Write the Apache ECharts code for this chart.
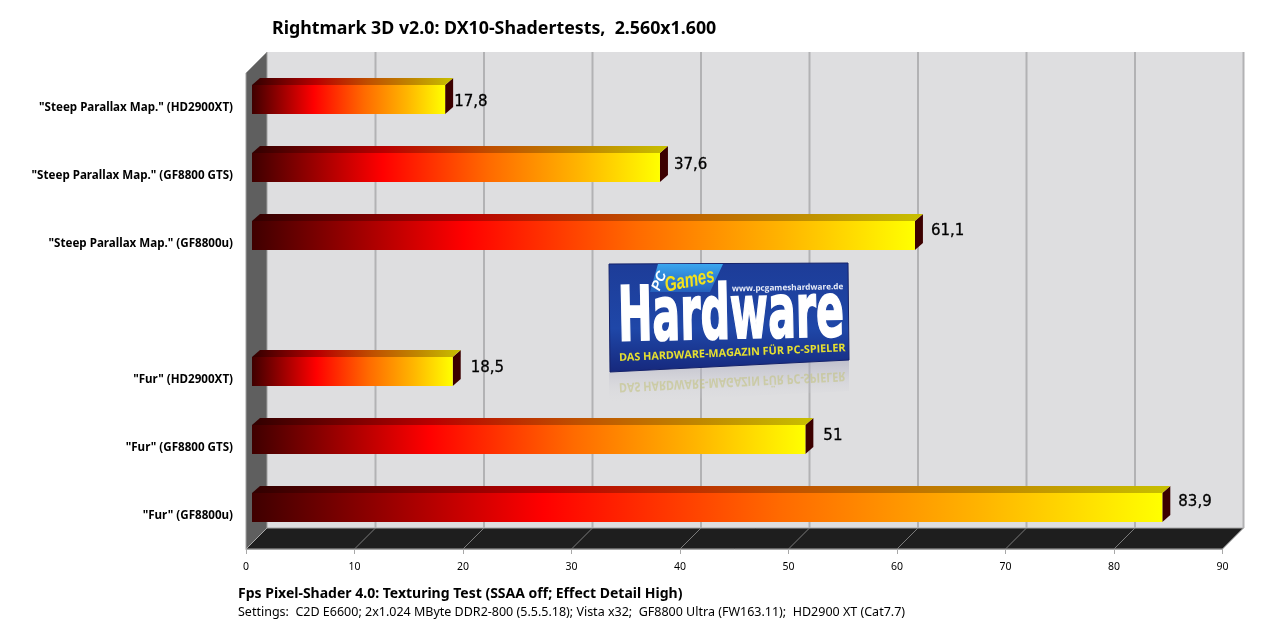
<!DOCTYPE html>
<html>
<head>
<meta charset="utf-8">
<style>html,body{margin:0;padding:0;background:#fff}#chart{width:1280px;height:637px}</style>
<script src="https://cdn.jsdelivr.net/npm/echarts@6/dist/echarts.min.js"></script>
</head>
<body>
<div id="chart"></div>
<script>
// Rightmark 3D shader results, drawn top to bottom
const categories = [
  '"Steep Parallax Map." (HD2900XT)',
  '"Steep Parallax Map." (GF8800 GTS)',
  '"Steep Parallax Map." (GF8800u)',
  '',
  '"Fur" (HD2900XT)',
  '"Fur" (GF8800 GTS)',
  '"Fur" (GF8800u)'
];
const fpsValues = [17.8, 37.6, 61.1, null, 18.5, 51, 83.9];
const valueLabels = ['17,8', '37,6', '61,1', '', '18,5', '51', '83,9'];
// Hand placement of each value label relative to its bar end
const labelGapX = [1, 6, 8, 0, 10, 10, 8];
const labelGapY = [2.5, -2.5, -4.5, 0, -3.5, -3.5, -5.5];
const axisTicks = { min: 0, max: 90, interval: 10 };

const titleText = 'Rightmark 3D v2.0: DX10-Shadertests,  2.560x1.600';
const noteBold = 'Fps Pixel-Shader 4.0: Texturing Test (SSAA off; Effect Detail High)';
const noteSmall = 'Settings:  C2D E6600; 2x1.024 MByte DDR2-800 (5.5.5.18); Vista x32;  GF8800 Ultra (FW163.11);  HD2900 XT (Cat7.7)';

const FONT = '"Noto Sans", sans-serif';
const DEPTH_X = 21, DEPTH_Y = 21;      // floor and wall depth
const BAR_DX = 6, BAR_TOP_X = 8, BAR_TOP_Y = 7, BAR_H = 29;

function grad(stops) {
  return new echarts.graphic.LinearGradient(0, 0, 1, 0,
    stops.map(s => ({ offset: s[0], color: s[1] })));
}
function vgrad(stops) {
  return new echarts.graphic.LinearGradient(0, 0, 0, 1,
    stops.map(s => ({ offset: s[0], color: s[1] })));
}
const frontStops = [[0,'#3f0000'],[0.32,'#ff0000'],[0.58,'#ff6a00'],[0.8,'#ffb400'],[1,'#ffff00']];
const topStops = [[0,'#300000'],[0.32,'#b80000'],[0.58,'#bf5000'],[0.8,'#bf8800'],[1,'#c8c000']];

// Back wall, side wall, floor and gridlines share one shear
function renderRoom(params, api) {
  const r = params.coordSys;
  const floorY = r.y + r.height + 7.5;
  const x0 = api.coord([axisTicks.min, 0])[0];
  const x1 = api.coord([axisTicks.max, 0])[0];
  const wallTop = 52;
  const backY = floorY - DEPTH_Y;
  const children = [
    { type: 'polygon', shape: { points: [[x0 + DEPTH_X, wallTop], [x1 + DEPTH_X, wallTop], [x1 + DEPTH_X, backY], [x0 + DEPTH_X, backY]] },
      style: { fill: '#dedee0' } },
    { type: 'polygon', shape: { points: [[x0, wallTop + DEPTH_Y], [x0 + DEPTH_X, wallTop], [x0 + DEPTH_X, backY], [x0, floorY]] },
      style: { fill: '#5f5f5f', stroke: '#a0a0a0', lineWidth: 1 } },
    { type: 'polygon', shape: { points: [[x0, floorY], [x0 + DEPTH_X, backY], [x1 + DEPTH_X, backY], [x1, floorY]] },
      style: { fill: '#1e1e1e', stroke: '#a8a8a8', lineWidth: 1 } }
  ];
  for (let t = axisTicks.min + axisTicks.interval; t <= axisTicks.max; t += axisTicks.interval) {
    const x = api.coord([t, 0])[0];
    children.push({ type: 'line', shape: { x1: x + DEPTH_X, y1: wallTop, x2: x + DEPTH_X, y2: backY },
      style: { stroke: '#b2b2b4', lineWidth: 2 } });
    if (t < axisTicks.max) {
      children.push({ type: 'line', shape: { x1: x + DEPTH_X, y1: backY, x2: x, y2: floorY },
        style: { stroke: '#7a7a7a', lineWidth: 1 } });
    }
  }
  return { type: 'group', silent: true, children };
}

// One extruded bar: side, top and front face, then its value
function renderBar(params, api) {
  const v = api.value(0), idx = api.value(1);
  const end = api.coord([v, idx]);
  const start = api.coord([0, idx]);
  const xs = start[0] + BAR_DX, xe = end[0] + BAR_DX;
  const yt = end[1] - BAR_H / 2, yb = yt + BAR_H;
  return { type: 'group', children: [
    { type: 'polygon', shape: { points: [[xe, yt], [xe + BAR_TOP_X, yt - BAR_TOP_Y], [xe + BAR_TOP_X, yb - BAR_TOP_Y], [xe, yb]] },
      style: { fill: '#3c0000' } },
    { type: 'polygon', shape: { points: [[xs, yt], [xs + BAR_TOP_X, yt - BAR_TOP_Y], [xe + BAR_TOP_X, yt - BAR_TOP_Y], [xe, yt]] },
      style: { fill: grad(topStops) } },
    { type: 'rect', shape: { x: xs, y: yt, width: xe - xs, height: BAR_H },
      style: { fill: grad(frontStops) } },
    { type: 'text', x: xe + BAR_TOP_X + labelGapX[idx], y: end[1] + labelGapY[idx],
      style: { text: valueLabels[idx], fill: '#000', stroke: '#000', lineWidth: 0.3, fontFamily: '"DejaVu Sans"', fontSize: 15, align: 'left', verticalAlign: 'middle' } }
  ] };
}

// Publisher badge with its fading reflection, placed on the back wall
function renderBadge() {
  const word = (text, x, y, rotation, style, extra) => Object.assign({
    type: 'text', x, y, rotation,
    style: Object.assign({ text, fontWeight: 'bold', align: 'left', verticalAlign: 'middle' }, style)
  }, extra || {});
  const strap = 'DAS HARDWARE-MAGAZIN FÜR PC-SPIELER';
  const sans = '"Open Sans"', liberation = '"Liberation Sans"';
  return { type: 'group', x: 609, y: 263, silent: true, children: [
    { type: 'polygon', shape: { points: [[0, 109], [240, 97], [240, 128], [0, 140]] },
      style: { fill: vgrad([[0, 'rgba(170,170,190,0.6)'], [1, 'rgba(222,222,224,0)']]) } },
    word(strap, 10, 124, 0.05, { fontFamily: sans, fontSize: 10.8, fill: 'rgba(195,195,130,0.6)' }, { scaleY: -1.2 }),
    { type: 'polygon', shape: { points: [[0, 1], [239, 0], [240, 97], [1, 109]] },
      style: { fill: vgrad([[0, '#1d3c98'], [0.6, '#1f47a8'], [1, '#16287c']]), stroke: '#15226a', lineWidth: 1 } },
    { type: 'polygon', shape: { points: [[49, 1], [114, 1], [101, 29], [41, 29]] },
      style: { fill: vgrad([[0, '#3aa6ee'], [1, '#2560bc']]) } },
    word('PC', 47, 27, 1.2, { fontFamily: liberation, fontSize: 14, fontStyle: 'italic', fill: '#fff' }),
    word('Games', 56, 23, 0.2, { fontFamily: liberation, fontSize: 21, fontStyle: 'italic', fill: '#f4e21a' }, { scaleX: 0.72 }),
    word('www.pcgameshardware.de', 123, 26, 0.02, { fontFamily: sans, fontSize: 8.2, fill: '#e8ecf8' }),
    word('Hardware', 9, 58, 0.02, { fontFamily: '"DejaVu Sans"', fontSize: 58, fill: '#fff', stroke: '#fff', lineWidth: 1.5 }, { scaleX: 0.71, scaleY: 1.3 }),
    word(strap, 10, 95, 0.044, { fontFamily: sans, fontSize: 10.8, fill: '#e6e030' })
  ] };
}

const chart = echarts.init(document.getElementById('chart'));
chart.setOption({
  animation: false,
  backgroundColor: '#ffffff',
  title: [
    { text: titleText, left: 267, top: 15, textStyle: { fontFamily: FONT, fontWeight: 'bold', fontSize: 17.8, color: '#000' } },
    { text: noteBold, left: 233, top: 582, textStyle: { fontFamily: FONT, fontWeight: 'bold', fontSize: 14, color: '#000' } },
    { text: noteSmall, left: 233, top: 601, textStyle: { fontFamily: FONT, fontWeight: 'normal', fontSize: 12.5, color: '#000' } }
  ],
  grid: { left: 246, top: 65.5, width: 976.5, height: 476 },
  xAxis: {
    type: 'value', min: axisTicks.min, max: axisTicks.max, interval: axisTicks.interval,
    offset: 7.5,
    axisLine: { show: true, lineStyle: { color: '#a8a8a8' } },
    axisTick: { show: true, length: 5, lineStyle: { color: '#a8a8a8' } },
    axisLabel: { fontFamily: FONT, fontSize: 10.5, color: '#000', margin: 13 },
    splitLine: { show: false }
  },
  yAxis: {
    type: 'category', inverse: true, data: categories,
    axisLine: { show: false }, axisTick: { show: false },
    axisLabel: { fontFamily: FONT, fontWeight: 'bold', fontSize: 11.6, color: '#000', margin: 13, interval: 0, verticalAlign: 'top', lineHeight: 16 },
    splitLine: { show: false }
  },
  series: [
    { type: 'custom', renderItem: renderRoom, data: [[0, 0]], z: 1, silent: true, clip: false,
      encode: { x: 0, y: 1 } },
    { type: 'custom', renderItem: renderBar, z: 2, clip: false,
      data: fpsValues.map((v, i) => [v, i]).filter(d => d[0] !== null),
      encode: { x: 0, y: 1 } },
    { type: 'custom', renderItem: renderBadge, data: [[0, 0]], z: 3, silent: true, clip: false,
      encode: { x: 0, y: 1 } }
  ]
});
</script>
</body>
</html>
